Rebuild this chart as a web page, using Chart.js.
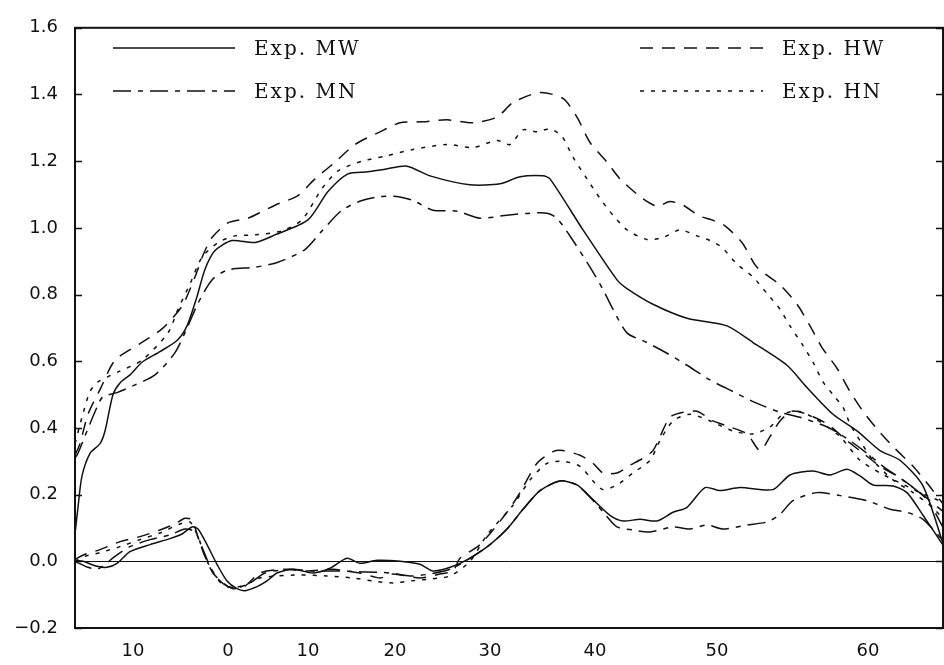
<!DOCTYPE html>
<html><head><meta charset="utf-8">
<script src="https://cdn.jsdelivr.net/npm/chart.js@4.4.1/dist/chart.umd.min.js"></script>
<style>html,body{margin:0;padding:0;background:#fff}#wrap{width:944px;height:665px}</style>
</head><body><div id="wrap"><canvas id="c" width="944" height="665"></canvas></div>
<script>
// x: distance along the (non-uniform) section axis; tick labels sit at these distances
const xTickPositions = [58, 153, 233, 320, 415, 520, 642, 793];
const xTickLabels = ['10', '0', '10', '20', '30', '40', '50', '60'];
const yMin = -0.2, yMax = 1.6, yStep = 0.2;

// upper curves
const mwUpper = [[0,0.082],[3,0.162],[7,0.256],[15,0.324],[25,0.353],[30,0.391],[38,0.5],[45,0.535],[55,0.559],[67,0.597],[85,0.629],[102,0.662],[112,0.706],[122,0.794],[130,0.876],[140,0.932],[157,0.962],[180,0.956],[200,0.979],[233,1.024],[253,1.109],[273,1.162],[293,1.168],[310,1.176],[332,1.185],[355,1.156],[395,1.129],[425,1.132],[445,1.153],[468,1.156],[475,1.147],[508,0.994],[542,0.844],[552,0.818],[578,0.771],[612,0.729],[652,0.706],[678,0.656],[712,0.588],[732,0.521],[758,0.441],[782,0.391],[805,0.332],[825,0.303],[848,0.226],[869,0.044]];
const hwUpper = [[0,0.318],[5,0.353],[13,0.441],[25,0.515],[40,0.603],[65,0.653],[87,0.697],[107,0.765],[120,0.853],[128,0.918],[137,0.971],[153,1.015],[173,1.029],[200,1.068],[223,1.097],[240,1.147],[260,1.197],[280,1.25],[305,1.288],[325,1.315],[348,1.318],[372,1.324],[398,1.315],[422,1.332],[438,1.376],[465,1.406],[488,1.388],[502,1.332],[515,1.256],[532,1.197],[545,1.147],[565,1.094],[582,1.065],[595,1.079],[608,1.068],[625,1.035],[637,1.024],[650,1.006],[667,0.956],[682,0.882],[705,0.829],[722,0.771],[735,0.706],[747,0.641],[762,0.579],[775,0.509],[788,0.45],[802,0.397],[818,0.344],[838,0.285],[852,0.235],[869,0.168]];
const mnUpper = [[0,0.309],[3,0.324],[12,0.391],[22,0.462],[28,0.494],[42,0.506],[60,0.529],[80,0.559],[100,0.626],[113,0.706],[123,0.774],[137,0.844],[153,0.874],[180,0.882],[203,0.897],[230,0.935],[247,0.991],[267,1.053],[287,1.082],[305,1.094],[322,1.094],[338,1.082],[358,1.053],[382,1.05],[405,1.029],[432,1.038],[455,1.044],[472,1.044],[482,1.029],[498,0.962],[515,0.882],[528,0.815],[538,0.756],[552,0.685],[572,0.656],[592,0.624],[612,0.588],[635,0.544],[658,0.509],[678,0.479],[705,0.447],[725,0.432],[752,0.403],[772,0.368],[792,0.324],[808,0.285],[832,0.235],[852,0.185],[869,0.097]];
const hnUpper = [[0,0.353],[7,0.432],[15,0.509],[23,0.538],[43,0.568],[67,0.603],[93,0.685],[103,0.756],[115,0.832],[127,0.912],[143,0.956],[160,0.976],[180,0.979],[207,0.991],[227,1.024],[247,1.118],[263,1.171],[287,1.2],[310,1.215],[338,1.235],[372,1.25],[398,1.241],[422,1.262],[435,1.25],[448,1.294],[462,1.288],[475,1.297],[487,1.274],[498,1.212],[512,1.147],[525,1.088],[538,1.038],[552,0.994],[572,0.965],[588,0.971],[605,0.994],[622,0.976],[635,0.962],[647,0.941],[662,0.891],[678,0.853],[692,0.803],[705,0.756],[715,0.706],[728,0.647],[738,0.597],[748,0.538],[758,0.5],[768,0.462],[775,0.412],[785,0.362],[798,0.303],[818,0.244],[838,0.206],[855,0.168],[869,0.126]];

// lower curves
const mwLower = [[0,0.003],[8,0],[22,-0.015],[32,-0.018],[42,-0.006],[55,0.029],[75,0.05],[95,0.068],[107,0.082],[117,0.103],[123,0.097],[132,0.05],[142,-0.009],[152,-0.059],[162,-0.082],[170,-0.088],[182,-0.076],[192,-0.059],[202,-0.035],[218,-0.024],[238,-0.035],[255,-0.021],[272,0.009],[285,-0.006],[302,0.003],[325,0],[345,-0.009],[358,-0.029],[378,-0.015],[398,0.015],[415,0.05],[432,0.097],[448,0.156],[465,0.212],[485,0.241],[502,0.229],[518,0.185],[535,0.138],[548,0.121],[565,0.126],[582,0.121],[598,0.147],[612,0.162],[630,0.221],[645,0.212],[665,0.221],[698,0.215],[715,0.259],[738,0.271],[755,0.259],[772,0.276],[785,0.256],[798,0.229],[818,0.226],[832,0.206],[848,0.138],[869,0.044]];
const hwLower = [[0,0.006],[10,0.021],[25,0.035],[45,0.059],[65,0.074],[85,0.094],[100,0.112],[110,0.129],[117,0.124],[125,0.053],[132,0],[138,-0.035],[148,-0.065],[158,-0.082],[170,-0.074],[185,-0.035],[208,-0.024],[232,-0.029],[258,-0.024],[285,-0.035],[305,-0.05],[318,-0.038],[345,-0.05],[365,-0.038],[378,-0.029],[385,0.009],[405,0.05],[432,0.147],[445,0.206],[462,0.294],[478,0.329],[488,0.332],[505,0.318],[518,0.294],[528,0.265],[542,0.265],[555,0.288],[568,0.309],[578,0.332],[585,0.374],[595,0.432],[608,0.447],[622,0.45],[638,0.421],[655,0.403],[672,0.382],[685,0.332],[695,0.374],[705,0.421],[717,0.45],[732,0.441],[752,0.412],[772,0.362],[792,0.315],[805,0.285],[825,0.25],[845,0.206],[869,0.147]];
const mnLower = [[0,0],[13,-0.018],[22,-0.024],[30,-0.009],[40,0.015],[55,0.044],[75,0.065],[95,0.079],[110,0.097],[120,0.088],[128,0.035],[135,-0.015],[143,-0.053],[153,-0.076],[163,-0.079],[175,-0.065],[190,-0.035],[215,-0.024],[238,-0.029],[265,-0.029],[290,-0.032],[315,-0.035],[335,-0.044],[355,-0.038],[375,-0.024],[395,0.009],[415,0.05],[432,0.097],[448,0.156],[465,0.212],[485,0.241],[502,0.229],[520,0.176],[530,0.141],[542,0.103],[558,0.094],[575,0.088],[598,0.103],[615,0.097],[632,0.109],[648,0.097],[672,0.109],[692,0.118],[705,0.141],[718,0.182],[742,0.206],[765,0.197],[792,0.182],[815,0.156],[832,0.147],[848,0.126],[869,0.059]];
const hnLower = [[0,0],[10,0.015],[25,0.026],[45,0.044],[65,0.065],[85,0.085],[105,0.112],[115,0.118],[123,0.074],[130,0.015],[137,-0.029],[147,-0.068],[157,-0.079],[170,-0.071],[185,-0.05],[202,-0.044],[225,-0.041],[252,-0.044],[278,-0.05],[298,-0.059],[318,-0.065],[335,-0.059],[355,-0.053],[375,-0.044],[395,0],[412,0.079],[438,0.168],[455,0.244],[472,0.294],[488,0.3],[505,0.285],[518,0.241],[528,0.215],[542,0.229],[558,0.265],[575,0.303],[585,0.362],[598,0.421],[615,0.441],[635,0.421],[658,0.391],[678,0.382],[695,0.403],[708,0.441],[722,0.45],[738,0.432],[765,0.374],[785,0.303],[805,0.265],[825,0.235],[845,0.206],[869,0.176]];

const seriesNames = ['Exp. MW', 'Exp. HW', 'Exp. MN', 'Exp. HN'];
const seriesDash = {
  'Exp. MW': [],
  'Exp. HW': [13, 9],
  'Exp. MN': [18, 7, 5, 7],
  'Exp. HN': [4, 7]
};
const INK = '#111';

function mk(label, arr) {
  return {
    label: label,
    data: arr.map(p => ({x: p[0], y: p[1]})),
    borderColor: INK,
    borderWidth: 1.5,
    borderDash: seriesDash[label],
    pointRadius: 0,
    tension: 0.25,
    fill: false
  };
}

const datasets = [
  mk('Exp. MW', mwUpper), mk('Exp. HW', hwUpper), mk('Exp. MN', mnUpper), mk('Exp. HN', hnUpper),
  mk('Exp. MW', mwLower), mk('Exp. HW', hwLower), mk('Exp. MN', mnLower), mk('Exp. HN', hnLower)
];

const framePlugin = {
  id: 'frame',
  beforeDatasetsDraw(chart) {
    const {ctx, chartArea: a, scales: {y}} = chart;
    ctx.save();
    ctx.strokeStyle = INK;
    ctx.setLineDash([]);
    ctx.lineWidth = 1;
    const y0 = Math.round(y.getPixelForValue(0)) + 0.5;
    ctx.beginPath(); ctx.moveTo(a.left, y0); ctx.lineTo(a.right, y0); ctx.stroke();
    ctx.lineWidth = 2;
    ctx.strokeRect(a.left, a.top, a.right - a.left - 1, a.bottom - a.top);
    ctx.lineWidth = 1.5;
    y.ticks.forEach(t => {
      const py = Math.round(y.getPixelForValue(t.value)) + 0.5;
      ctx.beginPath();
      ctx.moveTo(a.left, py); ctx.lineTo(a.left + 7, py);
      ctx.moveTo(a.right - 1, py); ctx.lineTo(a.right - 8, py);
      ctx.stroke();
    });
    ctx.restore();
  },
  afterDraw(chart) {
    const ctx = chart.ctx;
    const cols = [{x0: 113, x1: 235, tx: 254}, {x0: 640, x1: 763, tx: 782}];
    const rows = [48, 91];
    const order = [['Exp. MW', 0, 0], ['Exp. HW', 1, 0], ['Exp. MN', 0, 1], ['Exp. HN', 1, 1]];
    ctx.save();
    ctx.strokeStyle = INK; ctx.fillStyle = INK; ctx.lineWidth = 1.5;
    ctx.font = '20px "DejaVu Serif"';
    if ('letterSpacing' in ctx) ctx.letterSpacing = '2px';
    ctx.textBaseline = 'alphabetic';
    order.forEach(([name, c, r]) => {
      const col = cols[c], yy = rows[r];
      ctx.setLineDash(seriesDash[name]);
      ctx.beginPath(); ctx.moveTo(col.x0, yy); ctx.lineTo(col.x1, yy); ctx.stroke();
      ctx.setLineDash([]);
      ctx.fillText(name, col.tx, yy + 7);
    });
    ctx.restore();
  }
};

function fmtY(v) {
  if (Math.abs(v) < 1e-9) return '0.0';
  return (v < 0 ? '\u2212' : '') + Math.abs(v).toFixed(1);
}

new Chart(document.getElementById('c'), {
  type: 'line',
  data: {datasets: datasets},
  options: {
    responsive: false,
    animation: false,
    devicePixelRatio: 1,
    layout: {padding: {top: 15, left: 0, right: 0, bottom: 0}},
    plugins: {legend: {display: false}, tooltip: {enabled: false}},
    scales: {
      x: {
        type: 'linear', min: 0, max: 869,
        afterBuildTicks: s => { s.ticks = xTickPositions.map(v => ({value: v})); },
        afterFit: s => { s.height = 37; },
        grid: {display: false, drawTicks: false},
        border: {display: false},
        ticks: {
          autoSkip: false, maxRotation: 0, padding: 13, color: INK,
          font: {family: 'DejaVu Sans', size: 18},
          callback: (v, i) => xTickLabels[i]
        }
      },
      y: {
        type: 'linear', min: yMin, max: yMax,
        afterFit: s => { s.width = 75; },
        grid: {display: false, drawTicks: false},
        border: {display: false},
        ticks: {
          stepSize: yStep, padding: 17, color: INK,
          font: {family: 'DejaVu Sans', size: 18},
          callback: v => fmtY(v)
        }
      }
    }
  },
  plugins: [framePlugin]
});
</script></body></html>
